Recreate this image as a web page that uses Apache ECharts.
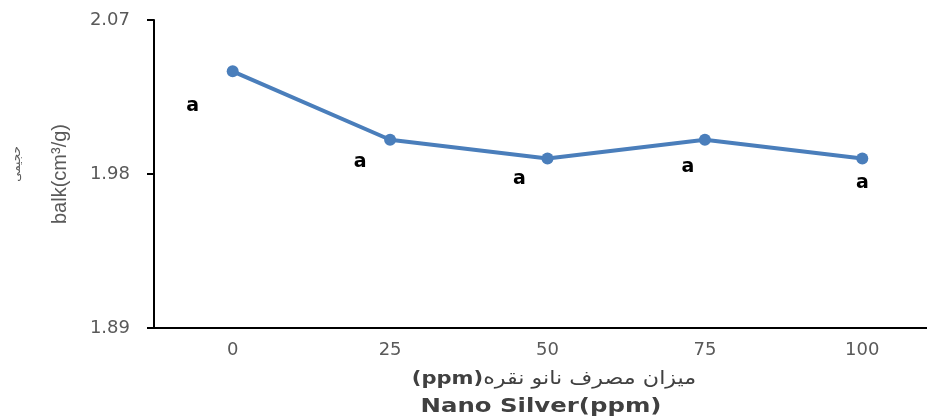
<!DOCTYPE html>
<html><head><meta charset="utf-8">
<script src="https://cdn.jsdelivr.net/npm/echarts@6/dist/echarts.min.js"></script>
<style>html,body{margin:0;padding:0;background:#fff}#c{width:927px;height:419px}</style>
</head><body><div id="c"></div>
<script>
const categories = ['0', '25', '50', '75', '100'];
const values = [2.040, 2.000, 1.989, 2.000, 1.989];
const letters = ['a', 'a', 'a', 'a', 'a'];
const yTicks = [1.89, 1.98, 2.07];
const letterOffsets = [[-40, 35], [-30, 22], [-28, 20], [-17, 27], [0, 24]];

const chart = echarts.init(document.getElementById('c'));
chart.setOption({
  animation: false,
  grid: { left: 154, width: 787, top: 20, bottom: 91, containLabel: false, outerBoundsMode: 'none' },
  xAxis: {
    type: 'category', data: categories, boundaryGap: true,
    axisLine: { lineStyle: { color: '#000', width: 2 } },
    axisTick: { show: false },
    axisLabel: { color: '#595959', fontSize: 18, fontFamily: 'DejaVu Sans', margin: 13 }
  },
  yAxis: {
    type: 'value', min: yTicks[0], max: yTicks[2], interval: 0.09,
    axisLine: { show: true, lineStyle: { color: '#000', width: 2 } },
    axisTick: { show: true, length: 7, lineStyle: { color: '#000', width: 2 } },
    splitLine: { show: false },
    axisLabel: { color: '#595959', fontSize: 18, fontFamily: 'DejaVu Sans', margin: 24,
      formatter: v => v.toFixed(2) },
    name: 'balk(cm³/g)', nameLocation: 'middle', nameRotate: 90, nameGap: 84,
    nameTextStyle: { color: '#595959', fontSize: 20, fontFamily: 'Liberation Sans Narrow, Arial Narrow, Liberation Sans' }
  },
  graphic: [
    { type: 'text', x: 17, y: 164, rotation: Math.PI / 2, style: { text: 'حجیمی', fill: '#595959', font: '12px "Noto Sans", "DejaVu Sans"', align: 'center', verticalAlign: 'middle' } },
    { type: 'text', x: 554, y: 379, scaleX: 1.17, style: {
        text: '{b|(ppm)}{r|میزان مصرف نانو نقره}', align: 'center', verticalAlign: 'middle',
        rich: {
          b: { fill: '#404040', font: 'bold 18px "DejaVu Sans"' },
          r: { fill: '#404040', font: '19px "DejaVu Sans", "Noto Sans"' }
        } } },
    { type: 'text', x: 541, y: 407, scaleX: 1.22, style: { text: 'Nano Silver(ppm)', fill: '#404040', font: 'bold 20px "DejaVu Sans"', align: 'center', verticalAlign: 'middle' } }
  ],
  series: [{
    type: 'line', data: values.map((v, i) => ({
      value: v,
      label: { show: true, formatter: letters[i], position: 'inside', offset: letterOffsets[i] }
    })),
    symbol: 'circle', symbolSize: 12,
    lineStyle: { color: '#4a7ebb', width: 4 },
    itemStyle: { color: '#4a7ebb' },
    label: { color: '#000', fontWeight: 'bold', fontSize: 19, fontFamily: 'DejaVu Sans' }
  }]
});
</script></body></html>
